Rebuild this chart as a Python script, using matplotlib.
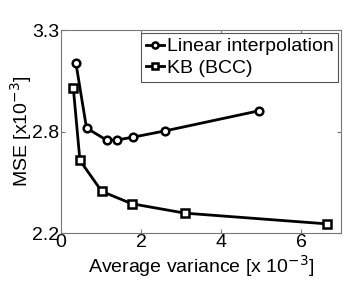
import matplotlib
matplotlib.use('Agg')
import matplotlib.pyplot as plt

# Values (x in 1e-3, y in 1e-3)
lin_x = [0.375, 0.64, 1.14, 1.39, 1.81, 2.61, 4.96]
lin_y = [3.121, 2.769, 2.704, 2.704, 2.72, 2.754, 2.863]
kb_x = [0.31, 0.475, 1.02, 1.77, 3.1, 6.64]
kb_y = [2.986, 2.594, 2.426, 2.359, 2.308, 2.25]

x_ticks = [0, 2, 4, 6]
y_ticks = [2.2, 2.75, 3.3]
y_tick_labels = ['2.2', '2.8', '3.3']

plt.rcParams['font.family'] = ['Liberation Sans', 'DejaVu Sans']
plt.rcParams['font.size'] = 14

fig = plt.figure(figsize=(3.46, 2.86), dpi=100)
ax = fig.add_axes([0.176, 0.185, 0.810, 0.710])

ax.plot(lin_x, lin_y, color='black', lw=2, marker='o', ms=5.5,
        mfc='white', mec='black', mew=1.8, label='Linear interpolation')
ax.plot(kb_x, kb_y, color='black', lw=2, marker='s', ms=5.5,
        mfc='white', mec='black', mew=1.8, label='KB (BCC)')

ax.set_xlim(0, 7)
ax.set_ylim(2.2, 3.3)
ax.set_xticks(x_ticks)
ax.set_yticks(y_ticks)
ax.set_yticklabels(y_tick_labels)
ax.tick_params(direction='in', top=True, right=True, length=3,
               color='#777777', labelsize=14, pad=1)
for s in ax.spines.values():
    s.set_color('#777777')
    s.set_linewidth(0.8)

ax.set_xlabel('Average variance [x 10$^{-3}$]', labelpad=1)
ax.set_ylabel('MSE [x10$^{-3}$]', labelpad=-1)

leg = ax.legend(loc='upper right', handlelength=0.9, handletextpad=0.15,
                borderpad=0.25, labelspacing=0.2, borderaxespad=0.15,
                fancybox=False, framealpha=1, fontsize=14, markerscale=0.8)
leg.get_frame().set_edgecolor('#555555')
leg.get_frame().set_linewidth(0.8)

fig.savefig('out.png', dpi=100)
